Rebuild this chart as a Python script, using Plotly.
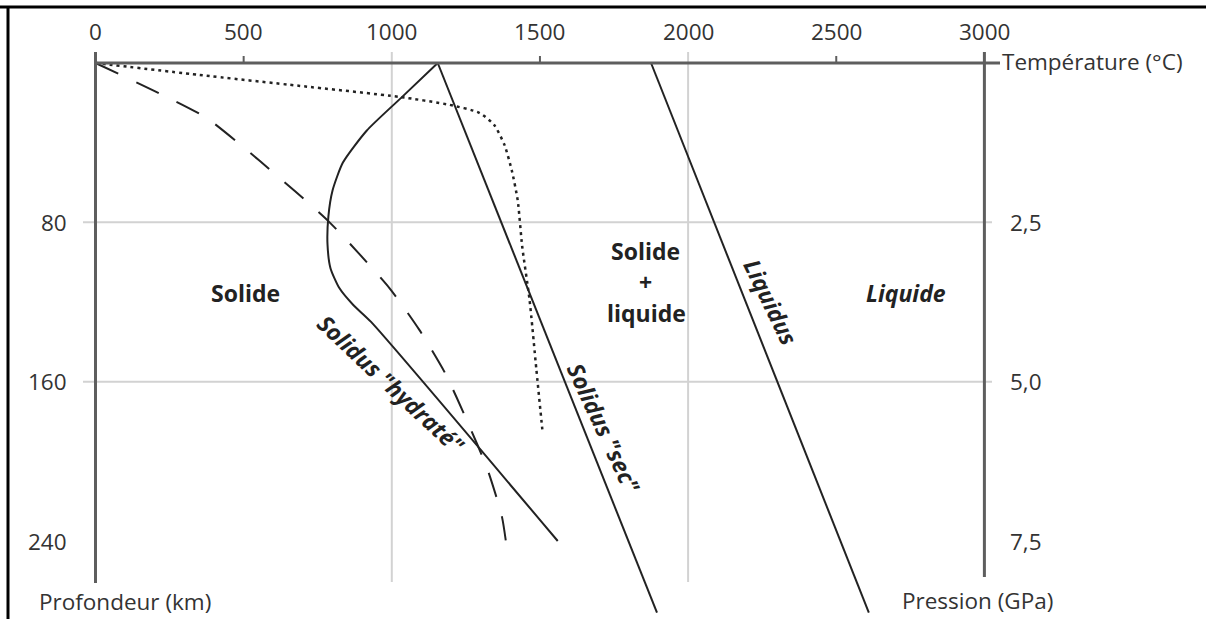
import plotly.graph_objects as go

# ---------------- data ----------------
temp_ticks = [0, 500, 1000, 1500, 2000, 2500, 3000]
temp_minor = [500, 1500, 2500]
temp_grid = [1000, 2000]
depth_ticks = [80, 160, 240]
pressure_labels = ["2,5", "5,0", "7,5"]

solidus_sec_T = [1155, 1895]
solidus_sec_d = [0, 276]

liquidus_T = [1875, 2610]
liquidus_d = [0, 276]

solidus_hydr_T = [1155, 1035, 915, 835, 800, 786, 783, 793, 823, 870, 930, 1560]
solidus_hydr_d = [0, 17, 34, 50, 64, 77, 91, 103, 113, 121.5, 130, 240]

geotherm_dotted_T = [0, 350, 690, 1025, 1195, 1295, 1345, 1380, 1405, 1425, 1440, 1465, 1488, 1508]
geotherm_dotted_d = [0, 6, 11.5, 17, 21, 25, 31, 41, 54, 69, 92, 119, 154, 184]

geotherm_dashed_T = [0, 226, 375, 553, 790, 992, 1093, 1181, 1255, 1323, 1372, 1392]
geotherm_dashed_d = [0, 16, 27.6, 49, 80, 113, 134, 156, 180, 204, 228, 248]

# ---------------- figure geometry ----------------
W, H = 1206, 619
X0PX, XSCALE = 95.5, 0.2963     # px of 0 degC, px per degC
Y0PX, YSCALE = 63.0, 1.9917     # px of 0 km, px per km

def tx(px):
    return (px - X0PX) / XSCALE

def dy(py):
    return (py - Y0PX) / YSCALE

FONT = "Open Sans, Noto Sans, sans-serif"
TXT = "#333333"
CURVE = "#222222"
AXC = "#5e5e5e"
GRID = "#d2d2d2"
FS = 22.5
FB = 23

fig = go.Figure()

line_style = dict(color=CURVE, width=2)
fig.add_trace(go.Scatter(x=geotherm_dotted_T, y=geotherm_dotted_d, mode="lines",
                         line=dict(color=CURVE, width=2.5, dash="3px,4px", shape="spline", smoothing=0.6),
                         hoverinfo="skip", showlegend=False))
fig.add_trace(go.Scatter(x=geotherm_dashed_T, y=geotherm_dashed_d, mode="lines",
                         line=dict(color=CURVE, width=2, dash="25px,20px", shape="spline", smoothing=0.6),
                         hoverinfo="skip", showlegend=False))
fig.add_trace(go.Scatter(x=solidus_hydr_T, y=solidus_hydr_d, mode="lines",
                         line=dict(color=CURVE, width=2, shape="spline", smoothing=0.6),
                         hoverinfo="skip", showlegend=False))
fig.add_trace(go.Scatter(x=solidus_sec_T, y=solidus_sec_d, mode="lines",
                         line=line_style, hoverinfo="skip", showlegend=False))
fig.add_trace(go.Scatter(x=liquidus_T, y=liquidus_d, mode="lines",
                         line=line_style, hoverinfo="skip", showlegend=False))

shapes = []
# grid lines
for t in temp_grid:
    shapes.append(dict(type="line", x0=t, x1=t, y0=dy(52), y1=dy(582),
                       line=dict(color=GRID, width=2), layer="below"))
for d in depth_ticks[:2]:
    shapes.append(dict(type="line", x0=tx(83), x1=tx(992), y0=d, y1=d,
                       line=dict(color=GRID, width=2), layer="below"))
# axes
shapes.append(dict(type="line", x0=0, x1=tx(1000), y0=0, y1=0, line=dict(color=AXC, width=3)))
shapes.append(dict(type="line", x0=0, x1=0, y0=dy(52), y1=dy(583), line=dict(color=AXC, width=3)))
shapes.append(dict(type="line", x0=3000, x1=3000, y0=dy(52), y1=dy(577), line=dict(color=AXC, width=3)))
for t in temp_minor:
    shapes.append(dict(type="line", x0=t, x1=t, y0=dy(56), y1=0, line=dict(color=AXC, width=2)))
# image border
shapes.append(dict(type="line", xref="paper", yref="paper", x0=0, x1=1, y0=1 - 7 / H, y1=1 - 7 / H,
                    line=dict(color="#000000", width=3)))
shapes.append(dict(type="line", xref="paper", yref="paper", x0=8 / W, x1=8 / W, y0=0, y1=1 - 7 / H,
                    line=dict(color="#000000", width=3)))

ann = []
reg = dict(family=FONT, size=FS, color=TXT)
for t in temp_ticks:
    ann.append(dict(x=t, y=dy(31), text=str(t), showarrow=False, xanchor="center", yanchor="middle",
                    font=reg))
for d in depth_ticks:
    ann.append(dict(x=tx(69), y=d, text=str(d), showarrow=False, xanchor="right", yanchor="middle",
                    font=reg))
for d, p in zip(depth_ticks, pressure_labels):
    ann.append(dict(x=tx(1008), y=d, text=p, showarrow=False, xanchor="left", yanchor="middle",
                    font=reg))
ann.append(dict(x=tx(1000), y=dy(61), text="Température (°C)", showarrow=False, xanchor="left",
                yanchor="middle", font=reg))
ann.append(dict(x=tx(125), y=dy(601), text="Profondeur (km)", showarrow=False, xanchor="center",
                yanchor="middle", font=reg))
ann.append(dict(x=tx(977), y=dy(600), text="Pression (GPa)", showarrow=False, xanchor="center",
                yanchor="middle", font=reg))

bold = dict(family=FONT, size=FB, color="#222222", weight="bold")
ann.append(dict(x=tx(245), y=dy(293), text="Solide", showarrow=False, font=bold))
ann.append(dict(x=tx(645), y=dy(251), text="Solide", showarrow=False, font=bold))
ann.append(dict(x=tx(645), y=dy(282), text="+", showarrow=False, font=bold))
ann.append(dict(x=tx(646), y=dy(313), text="liquide", showarrow=False, font=bold))
ann.append(dict(x=tx(906), y=dy(293), text="<i>Liquide</i>", showarrow=False, font=bold))
ann.append(dict(x=tx(391), y=dy(384), text="<i>Solidus \"hydraté\"</i>", showarrow=False,
                textangle=43, font=bold))
ann.append(dict(x=tx(604), y=dy(428), text="<i>Solidus \"sec\"</i>", showarrow=False,
                textangle=65, font=bold))
ann.append(dict(x=tx(771), y=dy(302), text="<i>Liquidus</i>", showarrow=False,
                textangle=64, font=bold))

fig.update_layout(
    width=W, height=H,
    margin=dict(l=0, r=0, t=0, b=0),
    paper_bgcolor="white", plot_bgcolor="white",
    xaxis=dict(range=[tx(0), tx(W)], visible=False, fixedrange=True),
    yaxis=dict(range=[dy(H), dy(0)], visible=False, fixedrange=True),
    shapes=shapes, annotations=ann, showlegend=False,
)

fig.write_html("out.html", config={"displayModeBar": False},
               post_script="document.body.style.margin='0';document.body.style.overflow='hidden';")
